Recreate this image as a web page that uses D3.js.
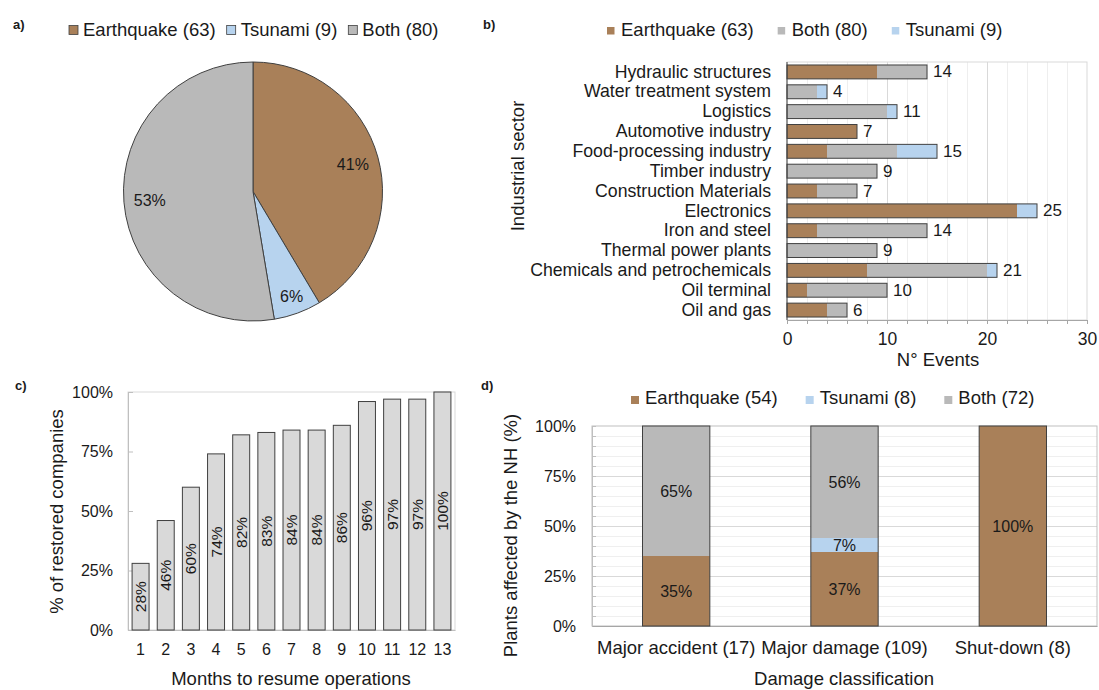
<!DOCTYPE html>
<html><head><meta charset="utf-8">
<script src="https://cdn.jsdelivr.net/npm/d3@7"></script>
<style>
html,body{margin:0;padding:0;background:#fff;}
svg{display:block;font-family:"Liberation Sans",Arial,Helvetica,sans-serif;}
</style></head><body>
<svg id="chart" width="1099" height="690"></svg>
<script>
// ---------- DATA ----------
const pieLabels = ["Earthquake (63)", "Tsunami (9)", "Both (80)"];
const pieValues = [63, 9, 80];

const sectors = ["Hydraulic structures","Water treatment system","Logistics","Automotive industry",
  "Food-processing industry","Timber industry","Construction Materials","Electronics","Iron and steel",
  "Thermal power plants","Chemicals and petrochemicals","Oil terminal","Oil and gas"];
const sectorEarthquake = [9,0,0,7,4,0,3,23,3,0,8,2,4];
const sectorBoth       = [5,3,10,0,7,9,4,0,11,9,12,8,2];
const sectorTsunami    = [0,1,1,0,4,0,0,2,0,0,1,0,0];
const sectorLegend = ["Earthquake (63)", "Both (80)", "Tsunami (9)"];
const sectorTicks = [0,10,20,30];

const months = [1,2,3,4,5,6,7,8,9,10,11,12,13];
const restored = [0.28,0.46,0.60,0.74,0.82,0.83,0.84,0.84,0.86,0.96,0.97,0.97,1.00];
const restoredTicks = [0,0.25,0.5,0.75,1];

const damageClasses = ["Major accident (17)","Major damage (109)","Shut-down (8)"];
const damageEarthquake = [0.35,0.37,1.00];
const damageTsunami    = [0.00,0.07,0.00];
const damageBoth       = [0.65,0.56,0.00];
const damageLegend = ["Earthquake (54)", "Tsunami (8)", "Both (72)"];
const damageTicks = [0,0.25,0.5,0.75,1];

// ---------- STYLE ----------
const COL = {eq:"#a98059", ts:"#b7d3ee", both:"#b9b9b9", dark:"#404040", axis:"#a6a6a6",
  border:"#d9d9d9", grid:"#d9d9d9", minor:"#eeeeee", text:"#1a1a1a", barC:"#d9d9d9"};
const svg = d3.select("#chart");
const pct = d3.format(".0%");

function label(g, x, y, str, size, opts={}) {
  const t = g.append("text").attr("x", x).attr("y", y).text(str)
    .attr("font-size", size).attr("fill", COL.text)
    .attr("text-anchor", opts.anchor || "start");
  if (opts.bold) t.attr("font-weight", "bold");
  if (opts.rotate) t.attr("transform", `rotate(-90,${x},${y})`);
  if (opts.central) t.attr("dominant-baseline", "central");
  return t;
}
function legend(g, x0, baseline, items, colors, o) {
  let x = x0;
  items.forEach((txt, i) => {
    g.append("rect").attr("x", x).attr("y", o.sqY).attr("width", o.sq).attr("height", o.sq)
      .attr("fill", colors[i]).attr("stroke", o.stroke || "none").attr("stroke-width", 0.8);
    const t = label(g, x + o.textOff, baseline, txt, o.size);
    x += o.textOff + t.node().getComputedTextLength() + o.gap;
  });
}
function styleAxis(g, color) {
  g.select(".domain").attr("stroke", color);
  g.selectAll(".tick line").attr("stroke", color);
  g.selectAll(".tick text").attr("fill", COL.text).attr("font-family", null);
  g.attr("font-family", null);
}

// panel letters
label(svg, 13, 29, "a)", 13, {bold:true});
label(svg, 483, 29, "b)", 13, {bold:true});
label(svg, 15, 390, "c)", 13, {bold:true});
label(svg, 481, 390, "d)", 13, {bold:true});

// ---------- PANEL A: PIE ----------
{
  const g = svg.append("g");
  legend(g, 69, 36, pieLabels, [COL.eq, COL.ts, COL.both],
    {sq:9, sqY:25.5, textOff:14, gap:11, size:18.5, stroke:COL.dark});
  const cx = 253, cy = 191.5, r = 129.5;
  const total = d3.sum(pieValues);
  const arcs = d3.pie().sort(null).value(d => d)(pieValues);
  const arc = d3.arc().innerRadius(0).outerRadius(r);
  const pg = g.append("g").attr("transform", `translate(${cx},${cy})`);
  const cols = [COL.eq, COL.ts, COL.both];
  pg.selectAll("path").data(arcs).join("path").attr("d", arc)
    .attr("fill", (d,i) => cols[i]).attr("stroke", COL.dark).attr("stroke-width", 1);
  arcs.forEach(d => {
    const lr = (d.endAngle - d.startAngle) < 0.6 ? r * 0.865 : r * 0.8;
    const [lx, ly] = d3.arc().innerRadius(lr).outerRadius(lr).centroid(d);
    label(pg, lx, ly, Math.round(d.value / total * 100) + "%", 16, {anchor:"middle", central:true});
  });
}

// ---------- PANEL B: STACKED HORIZONTAL BARS ----------
{
  const g = svg.append("g");
  legend(g, 607, 35.5, sectorLegend, [COL.eq, COL.both, COL.ts],
    {sq:7.5, sqY:27, textOff:14, gap:24, size:18.5});
  const x = d3.scaleLinear().domain([0,30]).range([787,1087]);
  const y = d3.scaleBand().domain(sectors).range([62,320]).paddingInner(0.3).paddingOuter(0.15);
  const H = 320 - 62;
  g.append("g").attr("transform","translate(0,320)")
    .call(d3.axisBottom(x).tickValues(d3.range(2,30,2).filter(v => v % 10)).tickSize(-H).tickFormat(""))
    .call(a => { a.select(".domain").remove(); a.selectAll("line").attr("stroke", COL.minor); });
  g.append("g").attr("transform","translate(0,320)")
    .call(d3.axisBottom(x).tickValues([10,20]).tickSize(-H).tickFormat(""))
    .call(a => { a.select(".domain").remove(); a.selectAll("line").attr("stroke", COL.grid); });
  g.append("rect").attr("x",787).attr("y",62).attr("width",300).attr("height",H)
    .attr("fill","none").attr("stroke",COL.border);
  g.append("g").attr("transform","translate(0,320)")
    .call(d3.axisBottom(x).tickValues(d3.range(0,31,2)).tickSize(4).tickSizeOuter(0).tickFormat(""))
    .call(a => styleAxis(a, COL.axis));
  g.append("g").attr("transform","translate(0,320)")
    .call(d3.axisBottom(x).tickValues(sectorTicks).tickSize(0).tickFormat(d3.format("d")))
    .call(a => { a.select(".domain").remove(); styleAxis(a, COL.axis);
      a.selectAll("text").attr("y", 25).attr("dy", 0).attr("font-size", 17.5); });
  const rows = sectors.map((s,i) => ({sector:s, eq:sectorEarthquake[i], both:sectorBoth[i], ts:sectorTsunami[i]}));
  const series = d3.stack().keys(["eq","both","ts"])(rows);
  const cmap = {eq:COL.eq, both:COL.both, ts:COL.ts};
  series.forEach(s => {
    g.append("g").selectAll("rect").data(s).join("rect")
      .attr("x", d => x(d[0])).attr("width", d => x(d[1]) - x(d[0]))
      .attr("y", d => y(d.data.sector)).attr("height", y.bandwidth())
      .attr("fill", cmap[s.key]);
  });
  rows.forEach(r => {
    const tot = r.eq + r.both + r.ts;
    g.append("rect").attr("x", x(0)).attr("width", x(tot) - x(0))
      .attr("y", y(r.sector)).attr("height", y.bandwidth())
      .attr("fill","none").attr("stroke", COL.dark).attr("stroke-width", 1);
    label(g, x(tot) + 6, y(r.sector) + y.bandwidth()/2, tot, 17, {central:true});
  });
  g.append("g").attr("transform","translate(787,0)")
    .call(d3.axisLeft(y).tickSize(0).tickPadding(16))
    .call(a => { styleAxis(a, COL.dark); a.select(".domain").attr("d", `M0,62V320`);
      a.selectAll("text").attr("font-size", 17.7); });
  label(g, 938, 366, "N° Events", 18.5, {anchor:"middle"});
  label(g, 524, 166, "Industrial sector", 18.5, {anchor:"middle", rotate:true});
}

// ---------- PANEL C: BARS ----------
{
  const g = svg.append("g");
  const x = d3.scaleBand().domain(months).range([128,455]).paddingInner(0.325).paddingOuter(0.1625);
  const y = d3.scaleLinear().domain([0,1]).range([630,392]);
  g.append("rect").attr("x",128).attr("y",392).attr("width",327).attr("height",238)
    .attr("fill","none").attr("stroke",COL.border);
  g.append("g").attr("transform","translate(128,0)")
    .call(d3.axisLeft(y).tickValues(restoredTicks).tickFormat(pct).tickSizeInner(-5).tickSizeOuter(0).tickPadding(15))
    .call(a => { styleAxis(a, "#bfbfbf"); a.selectAll("text").attr("font-size", 16); });
  g.append("g").attr("transform","translate(0,630)")
    .call(d3.axisBottom(x).tickSize(0))
    .call(a => { styleAxis(a, "#bfbfbf"); a.selectAll("text").attr("y", 25).attr("dy", 0).attr("font-size", 16); });
  const bw = x.bandwidth();
  g.append("g").selectAll("rect").data(months).join("rect")
    .attr("x", m => x(m)).attr("width", bw)
    .attr("y", (m,i) => y(restored[i])).attr("height", (m,i) => y(0) - y(restored[i]))
    .attr("fill", COL.barC).attr("stroke", COL.dark).attr("stroke-width", 1);
  months.forEach((m,i) => {
    label(g, x(m) + bw/2, (y(restored[i]) + y(0)) / 2, pct(restored[i]), 15.5,
      {anchor:"middle", central:true, rotate:true});
  });
  label(g, 291, 685, "Months to resume operations", 18.5, {anchor:"middle"});
  label(g, 63, 511.5, "% of restored companies", 18.5, {anchor:"middle", rotate:true});
}

// ---------- PANEL D: 100% STACKED BARS ----------
{
  const g = svg.append("g");
  legend(g, 631, 404, damageLegend, [COL.eq, COL.ts, COL.both],
    {sq:8, sqY:396, textOff:14, gap:28, size:18.5});
  const x = d3.scaleBand().domain(damageClasses).range([592,1097]).paddingInner(0.6).paddingOuter(0.3);
  const y = d3.scaleLinear().domain([0,1]).range([626,426]);
  const W = 1097 - 592;
  g.append("g").attr("transform","translate(592,0)")
    .call(d3.axisLeft(y).tickValues(d3.range(1,20).filter(k => k % 5).map(k => k/20)).tickSize(-W).tickFormat(""))
    .call(a => { a.select(".domain").remove(); a.selectAll("line").attr("stroke", "#efefef"); });
  g.append("g").attr("transform","translate(592,0)")
    .call(d3.axisLeft(y).tickValues([0.25,0.5,0.75]).tickSize(-W).tickFormat(""))
    .call(a => { a.select(".domain").remove(); a.selectAll("line").attr("stroke", COL.grid); });
  g.append("rect").attr("x",592).attr("y",426).attr("width",W).attr("height",200)
    .attr("fill","none").attr("stroke","#bfbfbf");
  g.append("g").attr("transform","translate(592,0)")
    .call(d3.axisLeft(y).tickValues(d3.range(0,21).map(k => k/20)).tickSizeInner(-4).tickSizeOuter(0).tickFormat(""))
    .call(a => styleAxis(a, "#bfbfbf"));
  g.append("g").attr("transform","translate(592,0)")
    .call(d3.axisLeft(y).tickValues(damageTicks).tickFormat(pct).tickSize(0).tickPadding(16))
    .call(a => { a.select(".domain").remove(); styleAxis(a, "#bfbfbf"); a.selectAll("text").attr("font-size", 16); });
  g.append("g").attr("transform","translate(0,626)")
    .call(d3.axisBottom(x).tickSize(0))
    .call(a => { styleAxis(a, "#a6a6a6"); a.selectAll("text").attr("y", 28).attr("dy", 0).attr("font-size", 18.5); });
  const rows = damageClasses.map((c,i) => ({cls:c, eq:damageEarthquake[i], ts:damageTsunami[i], both:damageBoth[i]}));
  const series = d3.stack().keys(["eq","ts","both"])(rows);
  const cmap = {eq:COL.eq, ts:COL.ts, both:COL.both};
  series.forEach(s => {
    g.append("g").selectAll("rect").data(s).join("rect")
      .attr("x", d => x(d.data.cls)).attr("width", x.bandwidth())
      .attr("y", d => y(d[1])).attr("height", d => y(d[0]) - y(d[1]))
      .attr("fill", cmap[s.key]);
    s.forEach(d => {
      const v = d[1] - d[0];
      if (v > 0.001) label(g, x(d.data.cls) + x.bandwidth()/2, (y(d[0]) + y(d[1]))/2, pct(v), 16,
        {anchor:"middle", central:true});
    });
  });
  rows.forEach(r => {
    const tot = r.eq + r.ts + r.both;
    g.append("rect").attr("x", x(r.cls)).attr("width", x.bandwidth())
      .attr("y", y(tot)).attr("height", y(0) - y(tot))
      .attr("fill","none").attr("stroke", COL.dark).attr("stroke-width", 1);
  });
  label(g, 844, 685, "Damage classification", 18.5, {anchor:"middle"});
  label(g, 517, 535.5, "Plants affected by the NH (%)", 18.5, {anchor:"middle", rotate:true});
}
</script>
</body></html>
